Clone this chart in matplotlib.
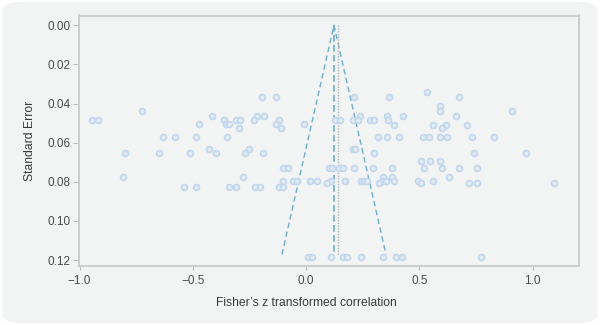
import numpy as np
import matplotlib.pyplot as plt
from matplotlib.patches import FancyBboxPatch

plt.rcParams['font.family'] = ['Liberation Sans', 'DejaVu Sans']

# Fisher's z per study and its standard error, listed row by row
z_values = [
    0.536,
    -0.194, -0.132, 0.212, 0.365, 0.677,
    0.590,
    -0.725, 0.590, 0.907,
    -0.414, -0.215, -0.188, 0.238, 0.356, 0.430, 0.662,
    -0.947, -0.921, -0.362, -0.309, -0.294, -0.230, -0.118, 0.127, 0.149, 0.205, 0.227, 0.280, 0.300, 0.361,
    -0.471, -0.355, -0.341, -0.132, -0.010,
    0.386, 0.562, 0.618, 0.709,
    -0.297, -0.113, 0.599,
    -0.631, -0.581, -0.487, -0.350, 0.318, 0.359, 0.408, 0.515, 0.542, 0.590, 0.624, 0.731, 0.829,
    -0.427, -0.253, 0.205, 0.218,
    -0.801, -0.648, -0.511, -0.399, -0.272, -0.191, 0.300, 0.742, 0.973,
    0.508, 0.549, 0.590,
    -0.103, -0.081, 0.099, 0.116, 0.147, 0.162, 0.213, 0.297, 0.378, 0.522, 0.602, 0.677, 0.756,
    -0.809, -0.278, 0.341, 0.378, 0.633,
    -0.102, -0.060, -0.038, 0.019, 0.050, 0.110, 0.171, 0.244, 0.256, 0.269, 0.341, 0.355, 0.386, 0.496, 0.562,
    0.094, 0.322, 0.508, 0.718, 0.756, 1.094,
    -0.537, -0.484, -0.341, -0.309, -0.224, -0.203, -0.121, -0.103,
    0.010, 0.028, 0.110, 0.162, 0.181, 0.244, 0.341, 0.397, 0.422, 0.774,
]
se_values = (
    [0.0340]
    + [0.0366] * 5
    + [0.0412]
    + [0.0440] * 3
    + [0.0463] * 7
    + [0.0483] * 14
    + [0.0507] * 5
    + [0.0512] * 4
    + [0.0524] * 3
    + [0.0572] * 13
    + [0.0634] * 4
    + [0.0653] * 9
    + [0.0692] * 3
    + [0.0731] * 13
    + [0.0778] * 5
    + [0.0796] * 15
    + [0.0805] * 6
    + [0.0827] * 8
    + [0.1182] * 10
)

pooled_z = 0.123      # summary effect
reference_z = 0.140   # dotted reference line
se_max = 0.1172

x_ticks = [-1.0, -0.5, 0.0, 0.5, 1.0]
y_ticks = [0.00, 0.02, 0.04, 0.06, 0.08, 0.10, 0.12]

bg = '#f2f3f3'
fig = plt.figure(figsize=(6, 3.25), dpi=100)
fig.patch.set_facecolor('white')
fig.patches.append(FancyBboxPatch((0.004, 0.006), 0.992, 0.988,
                                  boxstyle='round,pad=0,rounding_size=0.03',
                                  transform=fig.transFigure, facecolor=bg,
                                  edgecolor='none', zorder=-1))

ax = fig.add_axes([78.5 / 600, 1 - 265.5 / 325, (579 - 78.5) / 600, (265.5 - 15.5) / 325])
ax.set_facecolor(bg)

# funnel
ax.plot([pooled_z - 1.96 * se_max, pooled_z, pooled_z + 1.96 * se_max],
        [se_max, 0, se_max], color='#6aaed6', lw=1.0, ls=(0, (4, 2.5)))
ax.plot([pooled_z, pooled_z], [0, se_max], color='#6aaed6', lw=1.2, ls=(0, (4, 2)))
ax.plot([reference_z, reference_z], [0, se_max], color='#b4b4b4', lw=1.0, ls=(0, (1, 1)))

ax.scatter(z_values, se_values, s=18, facecolor='#e3ebf3', edgecolor='#c0d6ed',
           linewidth=1.2, zorder=3)

ax.set_xlim(-1.005, 1.205)
ax.set_ylim(0.1228, -0.0050)
ax.set_xticks(x_ticks)
ax.set_xticklabels(['\u22121.0', '\u22120.5', '0.0', '0.5', '1.0'])
ax.set_yticks(y_ticks)
ax.set_yticklabels([f'{v:.2f}' for v in y_ticks])

for side in ['left', 'bottom', 'top', 'right']:
    ax.spines[side].set_color('#cdcdcd')
    ax.spines[side].set_linewidth(1.4)
ax.tick_params(axis='x', length=3, width=0.8, color='#bdbdbd', labelsize=8.5,
               labelcolor='#4a4a4a', pad=4)
ax.tick_params(axis='y', length=4, width=0.8, color='#bdbdbd', labelsize=8.5,
               labelcolor='#4a4a4a', pad=2)

ax.set_xlabel('Fisher\u2019s z transformed correlation', fontsize=8.7, color='#3a3a3a')
ax.set_ylabel('Standard Error', fontsize=8.7, color='#3a3a3a')
ax.xaxis.set_label_coords((306 - 78.5) / (579 - 78.5), -0.125)
ax.yaxis.set_label_coords(-0.085, 0.5)

fig.savefig('out.png', dpi=100, facecolor=fig.get_facecolor())
